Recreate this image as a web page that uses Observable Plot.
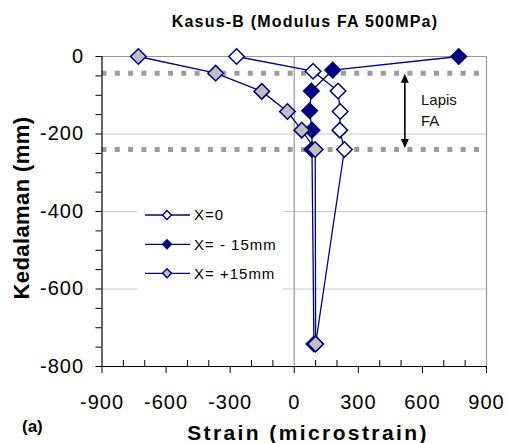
<!DOCTYPE html>
<html><head><meta charset="utf-8">
<script src="https://cdn.jsdelivr.net/npm/d3@7"></script>
<script src="https://cdn.jsdelivr.net/npm/@observablehq/plot@0.6"></script>
<style>
body{margin:0;background:#fff;}
#chart{width:508px;height:443px;}
svg{font-family:"Liberation Sans",Arial,sans-serif;}
g[aria-label="x-axis tick label"] text, g[aria-label="y-axis tick label"] text{letter-spacing:1px;}
</style></head><body><div id="chart"></div>
<script>
// ---- data ----
const seriesNames = ["X=0", "X= - 15mm", "X= +15mm"];
const strainX0   = [-270, 88, 205, 215, 213, 235, 100];
const depthX0    = [0, -38, -89, -142, -190, -240, -742];
const strainXm15 = [770, 180, 80, 72, 83, 83, 92];
const depthXm15  = [0, -35, -89, -140, -190, -240, -742];
const strainXp15 = [-730, -368, -152, -32, 35, 98, 100];
const depthXp15  = [0, -43, -90, -142, -190, -240, -742];
const layerDepths = [-43, -240];          // Lapis FA boundaries
const layerLabel = ["Lapis", "FA"];
const arrowStrain = 520;                  // annotation position
const xTicksMajor = [-900, -600, -300, 0, 300, 600, 900];
const xTicksMinor = [-800, -700, -500, -400, -200, -100, 100, 200, 400, 500, 700, 800];
const yTicksMajor = [0, -200, -400, -600, -800];
const yTicksAll = [0, -50, -100, -150, -200, -250, -300, -350, -400, -450, -500, -550, -600, -650, -700, -750, -800];
const yGrid = [-200, -400, -600];

const navy = "#000080";
const fills = ["white", navy, "#c0c0c0"];
const strains = [strainX0, strainXm15, strainXp15];
const depths = [depthX0, depthXm15, depthXp15];
const series = seriesNames.map((name, i) => strains[i].map((s, j) => ({series: name, strain: s, depth: depths[i][j]})));

const seriesMarks = series.flatMap((d, i) => [
  Plot.line(d, {x: "strain", y: "depth", stroke: navy, strokeWidth: 1.3}),
  Plot.dot(d, {x: "strain", y: "depth", symbol: "diamond2", r: 7, fill: fills[i], stroke: navy, strokeWidth: 1.5})
]);

const fmt = d => String(d);
const W = 508, H = 443;
const plot = Plot.plot({
  width: W, height: H,
  marginLeft: 101.5, marginRight: 22, marginTop: 56, marginBottom: 77,
  x: {domain: [-900, 900]},
  y: {domain: [-800, 0]},
  style: {fontFamily: '"Liberation Sans", Arial, sans-serif', color: "black", background: "white"},
  marks: [
    Plot.ruleY(yGrid, {stroke: "#c8c8c8", strokeWidth: 1}),
    Plot.ruleX([0], {stroke: "#999", strokeWidth: 1.2}),
    Plot.ruleY([0], {stroke: "#999", strokeWidth: 1.2}),
    Plot.ruleX([900], {stroke: "#999", strokeWidth: 1.2}),
    Plot.ruleY(layerDepths, {stroke: "#9c9c9c", strokeWidth: 5, strokeDasharray: "5,8.3"}),
    ...seriesMarks,
    Plot.ruleX([-900], {stroke: "black", strokeWidth: 1.2}),
    Plot.ruleY([-800], {stroke: "black", strokeWidth: 1.2}),
    Plot.axisY({ticks: yTicksAll, tickSize: 6, tickFormat: () => "", label: null}),
    Plot.axisY({ticks: yTicksMajor, tickSize: 0, tickPadding: 18, fontSize: 20, tickFormat: fmt, label: null}),
    Plot.axisX({ticks: xTicksMinor, tickSize: -6, tickFormat: () => "", label: null}),
    Plot.axisX({ticks: xTicksMajor, tickSize: 7, tickPadding: 21, fontSize: 20, tickFormat: fmt, label: null})
  ]
});
document.getElementById("chart").appendChild(plot);

const svg = d3.select(plot);
const xs = plot.scale("x"), ys = plot.scale("y");

// Title
svg.append("text").attr("x", 305).attr("y", 27).attr("text-anchor", "middle")
  .attr("font-size", 16).attr("font-weight", "bold").attr("letter-spacing", "1.2px")
  .attr("fill", "black").text("Kasus-B (Modulus FA 500MPa)");
// X label
svg.append("text").attr("x", 308).attr("y", 440).attr("text-anchor", "middle")
  .attr("font-size", 21).attr("font-weight", "bold").attr("letter-spacing", "2.4px")
  .attr("fill", "black").text("Strain (microstrain)");
// Y label
svg.append("text").attr("transform", "translate(28.5,208) rotate(-90)").attr("text-anchor", "middle")
  .attr("font-size", 22).attr("font-weight", "bold").attr("letter-spacing", "0.4px")
  .attr("fill", "black").text("Kedalaman (mm)");
// (a)
svg.append("text").attr("x", 22).attr("y", 432).attr("text-anchor", "start").attr("font-size", 17).attr("font-weight", "bold")
  .attr("fill", "black").text("(a)");

// Arrow for layer
const ax = xs.apply(arrowStrain);
const yTop = ys.apply(layerDepths[0]) + 1, yBot = ys.apply(layerDepths[1]) - 1;
svg.append("line").attr("x1", ax).attr("x2", ax).attr("y1", yTop + 6).attr("y2", yBot - 6)
  .attr("stroke", "black").attr("stroke-width", 1.6);
svg.append("path").attr("d", `M${ax},${yTop}l-4,9h8z`).attr("fill", "black");
svg.append("path").attr("d", `M${ax},${yBot}l-4,-9h8z`).attr("fill", "black");
layerLabel.forEach((t, i) => {
  svg.append("text").attr("x", 421).attr("y", 105 + i * 20.5).attr("text-anchor", "start").attr("font-size", 15)
    .attr("fill", "#111").text(t);
});

// Legend
const lg = svg.append("g");
lg.append("rect").attr("x", 137).attr("y", 197).attr("width", 146).attr("height", 94).attr("fill", "white");
const rowY = [215, 244.3, 273.3];
const sym = d3.symbol(d3.symbolDiamond2, Math.PI * 4 * 4);
seriesNames.forEach((name, i) => {
  lg.append("line").attr("x1", 145).attr("x2", 190).attr("y1", rowY[i]).attr("y2", rowY[i])
    .attr("stroke", navy).attr("stroke-width", 1.3);
  lg.append("path").attr("d", sym()).attr("transform", `translate(167,${rowY[i]})`)
    .attr("fill", fills[i]).attr("stroke", navy).attr("stroke-width", 1.4);
  lg.append("text").attr("x", 194).attr("y", rowY[i]).attr("dy", "0.36em").attr("text-anchor", "start").attr("font-size", 15)
    .attr("letter-spacing", "1px").attr("fill", "black").text(name);
});
</script></body></html>
